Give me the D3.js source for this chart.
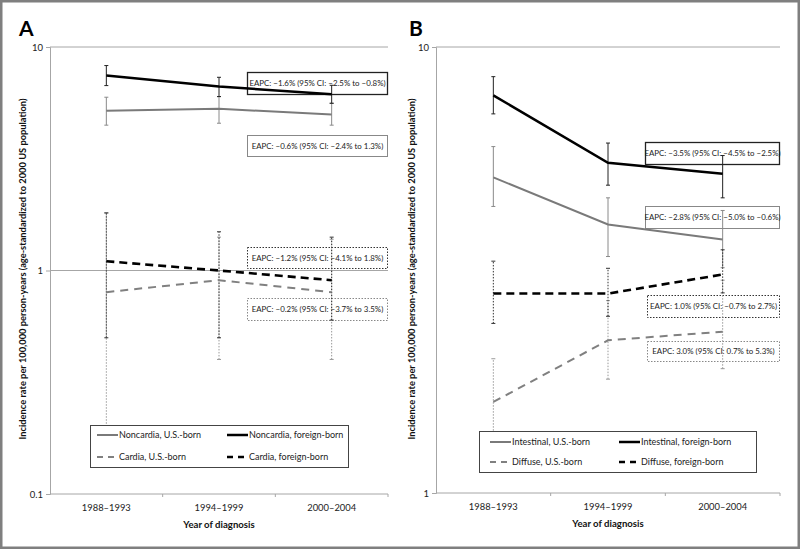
<!DOCTYPE html>
<html><head><meta charset="utf-8">
<script src="https://cdn.jsdelivr.net/npm/d3@7"></script>
<style>body{margin:0;background:#fff} text{font-family:Lato,"Open Sans",sans-serif}</style>
</head><body><svg id="c" width="800" height="549"></svg>
<script>
const categories = ["1988\u20131993", "1994\u20131999", "2000\u20132004"];

// Panel A
const nonUS = [5.18, 5.29, 4.99], nonUSLo = [4.47, 4.56, 4.47], nonUSHi = [5.96, 6.0, 5.6];
const nonFB = [7.45, 6.65, 6.15], nonFBLo = [6.72, 6.0, 5.6], nonFBHi = [8.26, 7.32, 6.74];
const cardUS = [0.80, 0.905, 0.80], cardUSLo = [0.20, 0.40, 0.40], cardUSHi = [1.81, 1.41, 1.38];
const cardFB = [1.10, 1.00, 0.905], cardFBLo = [0.50, 0.50, 0.60], cardFBHi = [1.81, 1.49, 1.41];
const ticksA = [0.1, 1, 10];
const legendA = ["Noncardia, U.S.-born", "Noncardia, foreign-born", "Cardia, U.S.-born", "Cardia, foreign-born"];
const eapcA = ["EAPC: \u22121.6% (95% CI: \u22122.5% to \u22120.8%)", "EAPC: \u22120.6% (95% CI: \u22122.4% to 1.3%)",
               "EAPC: \u22121.2% (95% CI: \u22124.1% to 1.8%)", "EAPC: \u22120.2% (95% CI: \u22123.7% to 3.5%)"];

// Panel B
const intUS = [5.10, 4.00, 3.70], intUSLo = [4.39, 3.39, 3.2], intUSHi = [5.98, 4.59, 4.30];
const intFB = [7.79, 5.50, 5.20], intFBLo = [7.08, 4.90, 4.59], intFBHi = [8.58, 6.09, 5.71];
const difUS = [1.60, 2.20, 2.30], difUSLo = [1.20, 1.80, 1.90], difUSHi = [2.00, 2.70, 3.0];
const difFB = [2.80, 2.80, 3.09], difFBLo = [2.40, 2.49, 2.81], difFBHi = [3.31, 3.19, 3.51];
const ticksB = [1, 10];
const legendB = ["Intestinal, U.S.-born", "Intestinal, foreign-born", "Diffuse, U.S.-born", "Diffuse, foreign-born"];
const eapcB = ["EAPC: \u22123.5% (95% CI: \u22124.5% to \u22122.5%)", "EAPC: \u22122.8% (95% CI: \u22125.0% to \u22120.6%)",
               "EAPC: 1.0% (95% CI: \u22120.7% to 2.7%)", "EAPC: 3.0% (95% CI: 0.7% to 5.3%)"];

const yTitle = "Incidence rate per 100,000 person-years (age-standardized to 2000 US population)";
const xTitle = "Year of diagnosis";

const svg = d3.select("#c");
svg.append("rect").attr("x", 1.25).attr("y", 1.25).attr("width", 797.5).attr("height", 546.5)
  .attr("fill", "none").attr("stroke", "#7f7f7f").attr("stroke-width", 2.5);

const styles = [
  {color: "#7a7a7a", width: 2, dash: null, bar: "#8a8a8a", barDash: null},
  {color: "#000", width: 2.5, dash: null, bar: "#222", barDash: null},
  {color: "#808080", width: 2, dash: "8,6", bar: "#999", barDash: "1.5,1.5"},
  {color: "#000", width: 2.6, dash: "8,5", bar: "#333", barDash: "1.5,1.5"}
];

function panel(cfg) {
  const g = svg.append("g");
  const x = d3.scaleBand().domain(categories).range([cfg.x0, cfg.x1]);
  const y = d3.scaleLog().domain(cfg.domain).range([cfg.yb, cfg.yt]);
  g.append("text").attr("x", cfg.letterX).attr("y", 36).attr("font-size", 21).attr("font-weight", 700)
    .attr("font-family", "Liberation Sans, Arial, sans-serif").text(cfg.letter);
  g.selectAll(".grid").data(cfg.ticks).join("line")
    .attr("x1", cfg.x0).attr("x2", cfg.x1).attr("y1", d => y(d)).attr("y2", d => y(d))
    .attr("stroke", "#a6a6a6").attr("stroke-width", 1);
  const ya = g.append("g").attr("transform", `translate(${cfg.x0},0)`)
    .call(d3.axisLeft(y).tickValues(cfg.ticks).tickFormat(d3.format("")).tickSize(4).tickPadding(3));
  ya.select(".domain").attr("stroke", "#a6a6a6");
  ya.selectAll(".tick line").attr("stroke", "#a6a6a6");
  ya.selectAll("text").attr("font-size", 9.5).attr("fill", "#222").attr("font-family", "Lato, sans-serif");
  const xa = g.append("g").attr("transform", `translate(0,${cfg.yb})`)
    .call(d3.axisBottom(x).tickSize(0).tickPadding(10));
  xa.select(".domain").remove();
  xa.selectAll("text").attr("font-size", 9.4).attr("fill", "#222").attr("font-family", "Lato, sans-serif");
  const bounds = categories.map((c, i) => x(c) + x.bandwidth());
  g.selectAll(".xt").data(bounds).join("line")
    .attr("x1", d => d).attr("x2", d => d).attr("y1", cfg.yb).attr("y2", cfg.yb + 3)
    .attr("stroke", "#a6a6a6");
  g.append("text").attr("x", (cfg.x0 + cfg.x1) / 2).attr("y", cfg.yb + 34).attr("text-anchor", "middle")
    .attr("font-size", 9.6).attr("font-weight", 700).attr("fill", "#111").text(xTitle);
  g.append("text").attr("transform", `translate(${cfg.titleX},${cfg.titleY}) rotate(-90)`)
    .attr("text-anchor", "middle").attr("font-size", 9.3).attr("font-weight", 700).attr("fill", "#111").text(yTitle);
  cfg.boxes.forEach((b, i) => {
    const st = [{s: "#888", d: null}, {s: "#222", d: null}, {s: "#888", d: "1.5,1.5"}, {s: "#333", d: "1.5,1.5"}][b.style];
    g.append("rect").attr("x", b.x + 0.5).attr("y", b.y + 0.5).attr("width", b.w).attr("height", b.h)
      .attr("fill", "none").attr("stroke", st.s).attr("stroke-width", b.style === 1 ? 1.3 : 1)
      .attr("stroke-dasharray", st.d);
    g.append("text").attr("x", b.x + b.w / 2 + 0.5).attr("y", b.y + b.h / 2 + 3.3).attr("text-anchor", "middle")
      .attr("font-size", 7.9).attr("fill", "#222").text(cfg.eapc[i]);
  });
  const cx = c => x(c) + x.bandwidth() / 2;
  cfg.series.forEach((s, si) => {
    const st = styles[si];
    const eb = g.append("g");
    categories.forEach((c, i) => {
      eb.append("line").attr("x1", cx(c)).attr("x2", cx(c)).attr("y1", y(s.lo[i])).attr("y2", y(s.hi[i]))
        .attr("stroke", st.bar).attr("stroke-width", 1).attr("stroke-dasharray", st.barDash);
      [s.lo[i], s.hi[i]].forEach(v => eb.append("line").attr("x1", cx(c) - 2).attr("x2", cx(c) + 2)
        .attr("y1", y(v)).attr("y2", y(v)).attr("stroke", st.bar).attr("stroke-width", 1));
    });
  });
  const line = d3.line().x((d, i) => cx(categories[i])).y(d => y(d));
  cfg.series.forEach((s, si) => {
    const st = styles[si];
    g.append("path").attr("d", line(s.v)).attr("fill", "none").attr("stroke", st.color)
      .attr("stroke-width", st.width).attr("stroke-dasharray", st.dash);
  });
  const L = cfg.legend;
  g.append("rect").attr("x", L.x + 0.5).attr("y", L.y + 0.5).attr("width", L.w).attr("height", L.h)
    .attr("fill", "#fff").attr("stroke", "#444").attr("stroke-width", 1);
  cfg.legendLabels.forEach((lab, i) => {
    const col = i % 2, row = Math.floor(i / 2);
    const lx = L.x + L.c[col], ly = L.y + L.r[row];
    const st = styles[i];
    g.append("line").attr("x1", lx).attr("x2", lx + 21).attr("y1", ly).attr("y2", ly)
      .attr("stroke", st.color).attr("stroke-width", st.width).attr("stroke-dasharray", st.dash ? "6,5" : null);
    g.append("text").attr("x", lx + 22).attr("y", ly + 3.3).attr("font-size", 9).attr("fill", "#222").text(lab);
  });
}

panel({
  letter: "A", letterX: 19, x0: 50, x1: 388, yt: 47, yb: 494, domain: [0.1, 10], ticks: ticksA,
  titleX: 26, titleY: 269, eapc: eapcA,
  boxes: [{x: 247, y: 72, w: 140, h: 22, style: 1}, {x: 247, y: 135, w: 140, h: 21, style: 0},
          {x: 247, y: 247, w: 140, h: 21, style: 3}, {x: 247, y: 298, w: 140, h: 22, style: 2}],
  series: [{v: nonUS, lo: nonUSLo, hi: nonUSHi}, {v: nonFB, lo: nonFBLo, hi: nonFBHi},
           {v: cardUS, lo: cardUSLo, hi: cardUSHi}, {v: cardFB, lo: cardFBLo, hi: cardFBHi}],
  legend: {x: 90, y: 425, w: 258, h: 42, c: [7, 137], r: [10, 32]}, legendLabels: legendA
});
panel({
  letter: "B", letterX: 409, x0: 436, x1: 780, yt: 47, yb: 493, domain: [1, 10], ticks: ticksB,
  titleX: 415, titleY: 269, eapc: eapcB,
  boxes: [{x: 645, y: 142, w: 134, h: 22, style: 1}, {x: 645, y: 206, w: 134, h: 22, style: 0},
          {x: 647, y: 295, w: 132, h: 22, style: 3}, {x: 647, y: 341, w: 132, h: 20, style: 2}],
  series: [{v: intUS, lo: intUSLo, hi: intUSHi}, {v: intFB, lo: intFBLo, hi: intFBHi},
           {v: difUS, lo: difUSLo, hi: difUSHi}, {v: difFB, lo: difFBLo, hi: difFBHi}],
  legend: {x: 479, y: 431, w: 277, h: 41, c: [11, 140], r: [11, 31]}, legendLabels: legendB
});
</script></body></html>
